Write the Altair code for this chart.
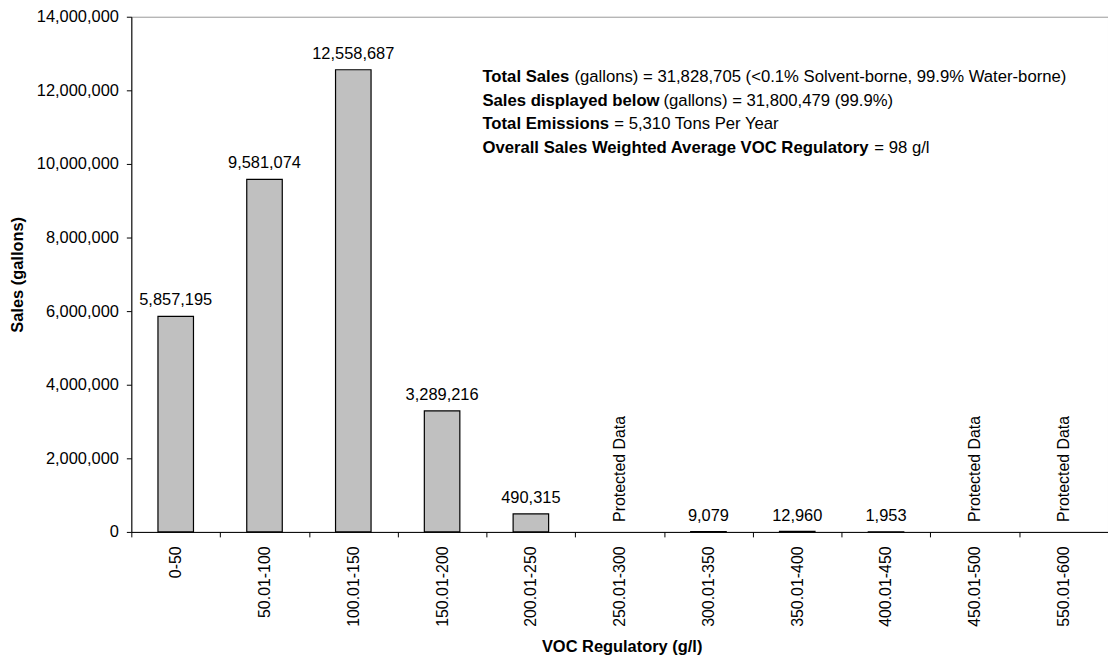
import altair as alt
import pandas as pd

categories = ["0-50", "50.01-100", "100.01-150", "150.01-200", "200.01-250",
              "250.01-300", "300.01-350", "350.01-400", "400.01-450",
              "450.01-500", "550.01-600"]
sales = [5857195, 9581074, 12558687, 3289216, 490315, None, 9079, 12960, 1953, None, None]
protected = [False, False, False, False, False, True, False, False, False, True, True]

y_ticks = [0, 2000000, 4000000, 6000000, 8000000, 10000000, 12000000, 14000000]

bold_parts = ["Total Sales", "Sales displayed below", "Total Emissions",
              "Overall Sales Weighted Average VOC Regulatory"]
normal_parts = ["(gallons) = 31,828,705 (<0.1% Solvent-borne, 99.9% Water-borne)",
                "(gallons) = 31,800,479 (99.9%)",
                "= 5,310 Tons Per Year",
                "= 98 g/l"]

FONT = "Liberation Sans"

df = pd.DataFrame({"cat": categories, "sales": sales, "protected": protected})
df["zero"] = 0

x_axis = alt.Axis(title="VOC Regulatory (g/l)", labelAngle=270,
                  tickBand="extent", tickSize=5, labelPadding=9,
                  labelFontSize=16, titleX=493, titleY=115,
                  titleBaseline="middle", titleAlign="center")
y_axis = alt.Axis(title="Sales (gallons)", values=y_ticks, format=",d",
                  tickSize=5, labelPadding=8, grid=False,
                  titleX=-114.5, titleY=259, titleAngle=270,
                  titleBaseline="middle", titleAlign="center")
x_scale = alt.Scale(paddingInner=0, paddingOuter=0)
y_scale = alt.Scale(domain=[0, 14000000], nice=False, zero=True)


def X():
    return alt.X("cat:N", sort=categories, scale=x_scale, axis=x_axis)


def Y(field):
    return alt.Y(field, scale=y_scale, axis=y_axis)


base = alt.Chart(df)

bars = base.transform_filter("datum.sales != null").mark_bar(
    width=alt.RelativeBandSize(0.4), fill="#c0c0c0", stroke="black", strokeWidth=1.2
).encode(x=X(), y=Y("sales:Q"))

labels = base.transform_filter("datum.sales != null").mark_text(
    dy=-11, baseline="alphabetic", align="center", font=FONT, fontSize=16.5, color="black"
).encode(x=X(), y=Y("sales:Q"), text=alt.Text("sales:Q", format=","))

prot = base.transform_filter("datum.protected").transform_calculate(
    txt="'Protected Data'"
).mark_text(angle=270, align="left", baseline="middle", dx=10,
            font=FONT, fontSize=16, color="black").encode(
    x=X(), y=Y("zero:Q"), text="txt:N")

x0 = 353
line_y = [66, 89.5, 113, 137]
bold_w = [88.7, 178.3, 128.8, 390.3]
space_w = 3.8

ann_layers = []
for i in range(4):
    d = pd.DataFrame({"b": [bold_parts[i]], "n": [normal_parts[i]]})
    ann_layers.append(alt.Chart(d).mark_text(
        align="left", baseline="alphabetic", font=FONT, fontSize=16.8,
        fontWeight="bold", color="black"
    ).encode(x=alt.value(x0), y=alt.value(line_y[i]), text="b:N"))
    ann_layers.append(alt.Chart(d).mark_text(
        align="left", baseline="alphabetic", font=FONT, fontSize=16.8,
        color="black"
    ).encode(x=alt.value(x0 + bold_w[i] + space_w), y=alt.value(line_y[i]), text="n:N"))

chart = alt.layer(bars, labels, prot, *ann_layers).properties(
    width=982, height=518,
    autosize=alt.AutoSizeParams(type="none"),
    padding={"left": 124, "top": 7, "right": 0, "bottom": 127},
).configure_view(
    stroke="#999999", strokeWidth=1
).configure_axis(
    labelFont=FONT, labelFontSize=16.5, labelColor="black",
    titleFont=FONT, titleFontSize=16.5, titleFontWeight="bold", titleColor="black",
    domainColor="black", domainWidth=1, tickColor="black", tickWidth=1,
)

chart.save("out.html", embed_options={"renderer": "svg", "actions": False})
